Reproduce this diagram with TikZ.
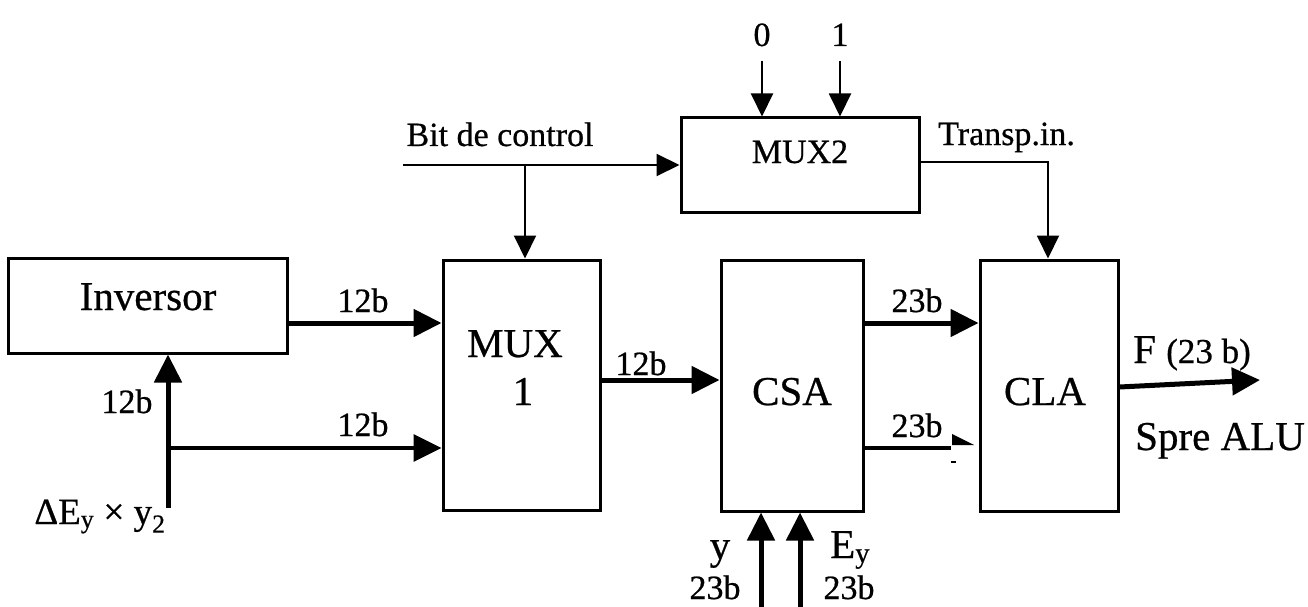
\documentclass[tikz,border=0pt]{standalone}
\usepackage{fontspec}
\setmainfont[FakeBold=0.6]{Liberation Serif}
\usetikzlibrary{arrows.meta}
\begin{document}
\begin{tikzpicture}[x=1pt,y=-1pt,
  box/.style={draw,line width=3pt,inner sep=0pt},
  big/.style={font=\fontsize{41}{48}\selectfont,inner sep=0pt,anchor=base},
  med/.style={font=\fontsize{34}{40}\selectfont,inner sep=0pt,anchor=base},
  thickarr/.style={line width=5pt,-{Triangle[length=28pt,width=27pt]}},
  midarr/.style={line width=3.5pt,-{Triangle[length=28pt,width=27pt]}},
  thinarr/.style={line width=2pt,-{Triangle[length=23pt,width=22pt]}},
]
\useasboundingbox (0,0) rectangle (1308,607);

% boxes
\node[box,minimum width=279pt,minimum height=95pt] (inv) at (147.5,305.5) {};
\node[box,minimum width=157pt,minimum height=250pt] (mux1) at (521.5,385) {};
\node[box,minimum width=142pt,minimum height=251pt] (csa) at (792,385.5) {};
\node[box,minimum width=138pt,minimum height=251pt] (cla) at (1049,385.5) {};
\node[box,minimum width=238pt,minimum height=94pt] (mux2) at (800,165) {};

% box texts
\node[big] (tinv) at (148,310) {Inversor};
\node[big] (tmux) at (515,357) {MUX};
\node[big] (tmuxone) at (523,405) {1};
\node[big] (tcsa) at (792,405) {CSA};
\node[big] (tcla) at (1045,405) {CLA};
\node[med] (tmuxtwo) at (800,163) {MUX2};

% free ends
\coordinate (din) at (168,508);
\coordinate (split) at (168,448);
\coordinate (bitstart) at (403,165);
\coordinate (bitsplit) at (525,165);
\coordinate (zero) at (762,61);
\coordinate (one) at (840,61);
\coordinate (yin) at (761,607);
\coordinate (eyin) at (800,607);
\coordinate (lowend) at (951,448);
\coordinate (tcorner) at (1048,162);
\coordinate (fout) at (1260,380);

% data path
\draw[thickarr] (din) -- (din|-inv.south);
\draw[midarr] (split) -- (mux1.west|-split);
\draw[thickarr] (inv.east|-0,323) -- (mux1.west|-0,323);
\draw[thickarr] (mux1.east|-0,380) -- (csa.west|-0,380);
\draw[thickarr] (csa.east|-0,323) -- (cla.west|-0,323);
\draw[line width=3.5pt] (csa.east|-lowend) -- (lowend);
\fill (952,434) -- (974,445) -- (952,445) -- cycle;
\fill (951,461) rectangle (956,463);
\draw[thickarr] (yin) -- (yin|-csa.south);
\draw[thickarr] (eyin) -- (eyin|-csa.south);
\draw[thickarr] (cla.east|-0,387) -- (fout);

% control path
\draw[thinarr] (bitstart) -- (mux2.west|-bitstart);
\draw[thinarr] (bitsplit) -- (bitsplit|-mux1.north);
\draw[thinarr] (zero) -- (zero|-mux2.north);
\draw[thinarr] (one) -- (one|-mux2.north);
\draw[thinarr] (mux2.east|-tcorner) -- (tcorner) -- (tcorner|-cla.north);

% labels
\node[med] (l1) at (363,312) {12b};
\node[med] (l2) at (127,413) {12b};
\node[med] (l3) at (363,436) {12b};
\node[med] (l4) at (641,375) {12b};
\node[med] (l5) at (917,312) {23b};
\node[med] (l6) at (917,437) {23b};
\node[inner sep=0pt,anchor=base,font=\fontsize{37}{44}\selectfont] (lde) at (100,524) {ΔE\textsubscript{y} × y\textsubscript{2}};
\node[med] (lbit) at (500,146) {Bit de control};
\node[med,anchor=base west] (ltr) at (938,145) {Transp.in.};
\node[med] (lzero) at (762,46) {0};
\node[med] (lone) at (840,46) {1};
\node[big] (ly) at (720,559) {y};
\node[big,anchor=base west] (ley) at (830,558) {E\textsubscript{y}};
\node[med] (l7) at (715,599) {23b};
\node[med] (l8) at (849,599) {23b};
\node[anchor=base west,inner sep=0pt] (lf) at (1133,363) {\fontsize{41}{48}\selectfont F \fontsize{35}{40}\selectfont(23 b)};
\node[big,anchor=base west] (lalu) at (1135,450) {Spre ALU};
\end{tikzpicture}
\end{document}
